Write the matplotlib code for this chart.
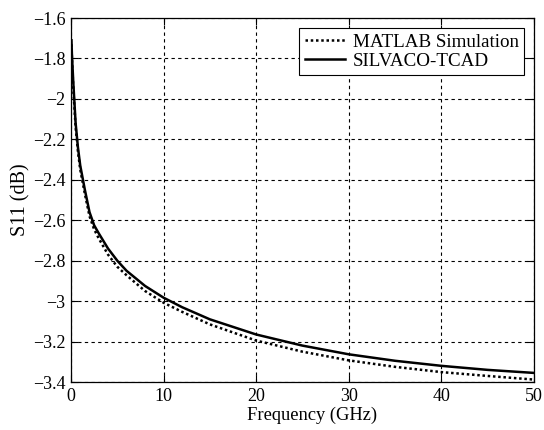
import matplotlib
matplotlib.use('Agg')
from matplotlib import pyplot as plt

# Data #
freq = [0.05, 0.1, 0.25, 0.5, 0.75, 1, 1.5, 2, 2.5, 3, 4, 5, 6, 8, 10, 12, 15,
        20, 25, 30, 35, 40, 45, 50]
s11_tcad = [-1.71, -1.78, -1.92, -2.12, -2.24, -2.33, -2.45, -2.56, -2.625, -2.665,
            -2.74, -2.80, -2.85, -2.925, -2.983, -3.03, -3.09, -3.165, -3.22,
            -3.263, -3.295, -3.32, -3.34, -3.355]
s11_matlab = [-1.73, -1.80, -1.95, -2.14, -2.26, -2.35, -2.47, -2.58, -2.645, -2.69,
              -2.77, -2.83, -2.872, -2.95, -3.008, -3.053, -3.115, -3.195, -3.25,
              -3.293, -3.325, -3.351, -3.37, -3.388]

x_ticks = [0, 10, 20, 30, 40, 50]
y_ticks = [-1.6, -1.8, -2.0, -2.2, -2.4, -2.6, -2.8, -3.0, -3.2, -3.4]
y_tick_labels = ['\u22121.6', '\u22121.8', '\u22122', '\u22122.2', '\u22122.4',
                 '\u22122.6', '\u22122.8', '\u22123', '\u22123.2', '\u22123.4']

plt.rcParams['font.family'] = ['Liberation Serif', 'DejaVu Serif']

fig = plt.figure(figsize=(5.44, 4.30), dpi=100)
ax = fig.add_axes([0.1305, 0.1116, 0.851, 0.8465])

# Plotting #
ax.plot(freq, s11_matlab, color='black', linestyle=(0, (1, 1.1)), linewidth=1.8,
        label='MATLAB Simulation')
ax.plot(freq, s11_tcad, color='black', linestyle='-', linewidth=1.8,
        label='SILVACO-TCAD')

# Pretty Things #
ax.set_xlim(0, 50)
ax.set_ylim(-3.4, -1.6)
ax.set_xticks(x_ticks)
ax.set_xticklabels([str(t) for t in x_ticks])
ax.set_yticks(y_ticks)
ax.set_yticklabels(y_tick_labels)
ax.tick_params(direction='in', labelsize=13, length=5, width=0.8, pad=4,
               top=True, right=True)
ax.grid(True, color='black', linestyle=(0, (3, 3)), linewidth=0.8)
for s in ax.spines.values():
    s.set_linewidth(0.9)
ax.set_xlabel('Frequency (GHz)', fontsize=13.3)
ax.xaxis.set_label_coords(0.52, -0.068)
ax.set_ylabel('S11 (dB)', fontsize=14.5, labelpad=2)

leg = ax.legend(loc='upper right', fontsize=13.7, frameon=True, fancybox=False,
                edgecolor='black', framealpha=1, handlelength=2.1,
                borderpad=0.3, labelspacing=0.1, handletextpad=0.4,
                borderaxespad=0.5)
leg.get_frame().set_linewidth(0.8)

plt.savefig('out.png', dpi=100)
